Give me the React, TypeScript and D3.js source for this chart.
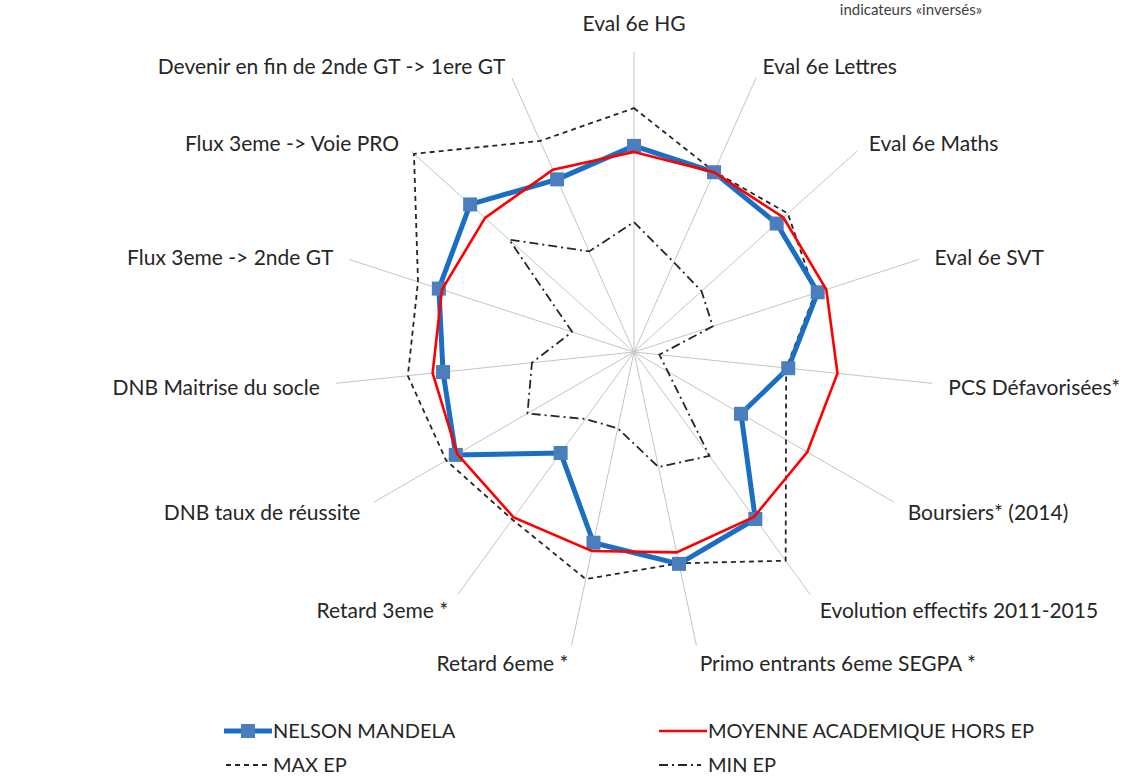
import React from 'react';
import * as d3 from 'd3';

const axes = [
    'Eval 6e HG',
    'Eval 6e Lettres',
    'Eval 6e Maths',
    'Eval 6e SVT',
    'PCS Défavorisées*',
    'Boursiers* (2014)',
    'Evolution effectifs 2011-2015',
    'Primo entrants 6eme SEGPA  *',
    'Retard 6eme  *',
    'Retard 3eme  *',
    'DNB taux de réussite',
    'DNB Maitrise du socle',
    'Flux 3eme -> 2nde GT',
    'Flux 3eme -> Voie PRO',
    'Devenir en fin de 2nde GT -> 1ere GT',
];

// values, 0..100 along each spoke
const mandela = [68.7, 65.6, 64, 64.4, 51.7, 41.2, 68.8, 72.2, 65, 41.6, 68.6, 64, 68.4, 73.5, 63];
const moyenne = [66.7, 65.6, 67, 67.4, 68.2, 66.7, 68, 68.3, 67.8, 68.2, 68, 67.5, 67.3, 66.8, 66.5];
const maxEP = [81.3, 65.8, 69, 63.5, 51, 58.5, 86, 72, 77.4, 69, 72.3, 75.8, 75.7, 98.7, 77];
const minEP = [43.3, 32.7, 30.3, 27.6, 8.5, 13, 42.8, 39.2, 26, 27.6, 41, 34.2, 21.7, 56, 36.7];

const W = 1124, H = 778;
const cx = 634, cy = 352;
const font = 'Lato, "Open Sans", sans-serif';

const r = d3.scaleLinear().domain([0, 100]).range([0, 300]);
const angle = d3.scaleLinear().domain([0, axes.length]).range([0, 2 * Math.PI]);

const radar = d3.lineRadial<number>()
    .angle((d, i) => angle(i))
    .radius(d => r(d))
    .curve(d3.curveLinearClosed);

const pt = (i: number, v: number) => {
    const a = angle(i);
    return [Math.sin(a) * r(v), -Math.cos(a) * r(v)];
};

const App = () => {
    return (
        <svg width={W} height={H} style={{ position: 'absolute', left: 0, top: 0, background: '#fff' }}
            fontFamily={font}>
            <text x={911} y={15} fontSize={15} textAnchor="middle" fill="#404040">indicateurs «inversés»</text>
            <g transform={`translate(${cx},${cy})`}>
                {axes.map((a, i) => {
                    const [x, y] = pt(i, 100);
                    return <line key={i} x1={0} y1={0} x2={x} y2={y} stroke="#c4c4c4" strokeWidth={1} />;
                })}
                {axes.map((a, i) => {
                    const [x, y] = pt(i, 100);
                    const s = Math.sin(angle(i)), c = Math.cos(angle(i));
                    let anchor = s > 0.01 ? 'start' : s < -0.01 ? 'end' : 'middle';
                    let dx = 16 * s;
                    let dy = anchor === 'middle' ? -28 : -15.5 * c + 3;
                    return (
                        <text key={i} x={x + dx} y={y + dy} dy="0.35em" textAnchor={anchor}
                            fontSize={21} fill="#262626">{a}</text>
                    );
                })}
                <path d={radar(minEP)!} fill="none" stroke="#262626" strokeWidth={1.8} strokeDasharray="9,4,2,4" />
                <path d={radar(maxEP)!} fill="none" stroke="#262626" strokeWidth={1.8} strokeDasharray="5,4" />
                <path d={radar(mandela)!} fill="none" stroke="#1b6fc2" strokeWidth={5} strokeLinejoin="round" />
                {mandela.map((v, i) => {
                    const [x, y] = pt(i, v);
                    return <rect key={i} x={x - 7} y={y - 7} width={14} height={14} fill="#4a7ebd" />;
                })}
                <path d={radar(moyenne)!} fill="none" stroke="#ff0000" strokeWidth={2.6} />
            </g>
            <g fontSize={20} fill="#262626">
                <line x1={224} x2={272} y1={731} y2={731} stroke="#1b6fc2" strokeWidth={5} />
                <rect x={241} y={724} width={14} height={14} fill="#4a7ebd" />
                <text x={273} y={731} dy="0.35em">NELSON MANDELA</text>
                <line x1={659} x2={707} y1={731} y2={731} stroke="#ff0000" strokeWidth={2.6} />
                <text x={708} y={731} dy="0.35em">MOYENNE ACADEMIQUE HORS EP</text>
                <line x1={226} x2={268} y1={765} y2={765} stroke="#262626" strokeWidth={1.8} strokeDasharray="5,4" />
                <text x={273} y={765} dy="0.35em">MAX EP</text>
                <line x1={659} x2={701} y1={765} y2={765} stroke="#262626" strokeWidth={1.8} strokeDasharray="9,4,2,4" />
                <text x={708} y={765} dy="0.35em">MIN EP</text>
            </g>
        </svg>
    );
};

export default App;
